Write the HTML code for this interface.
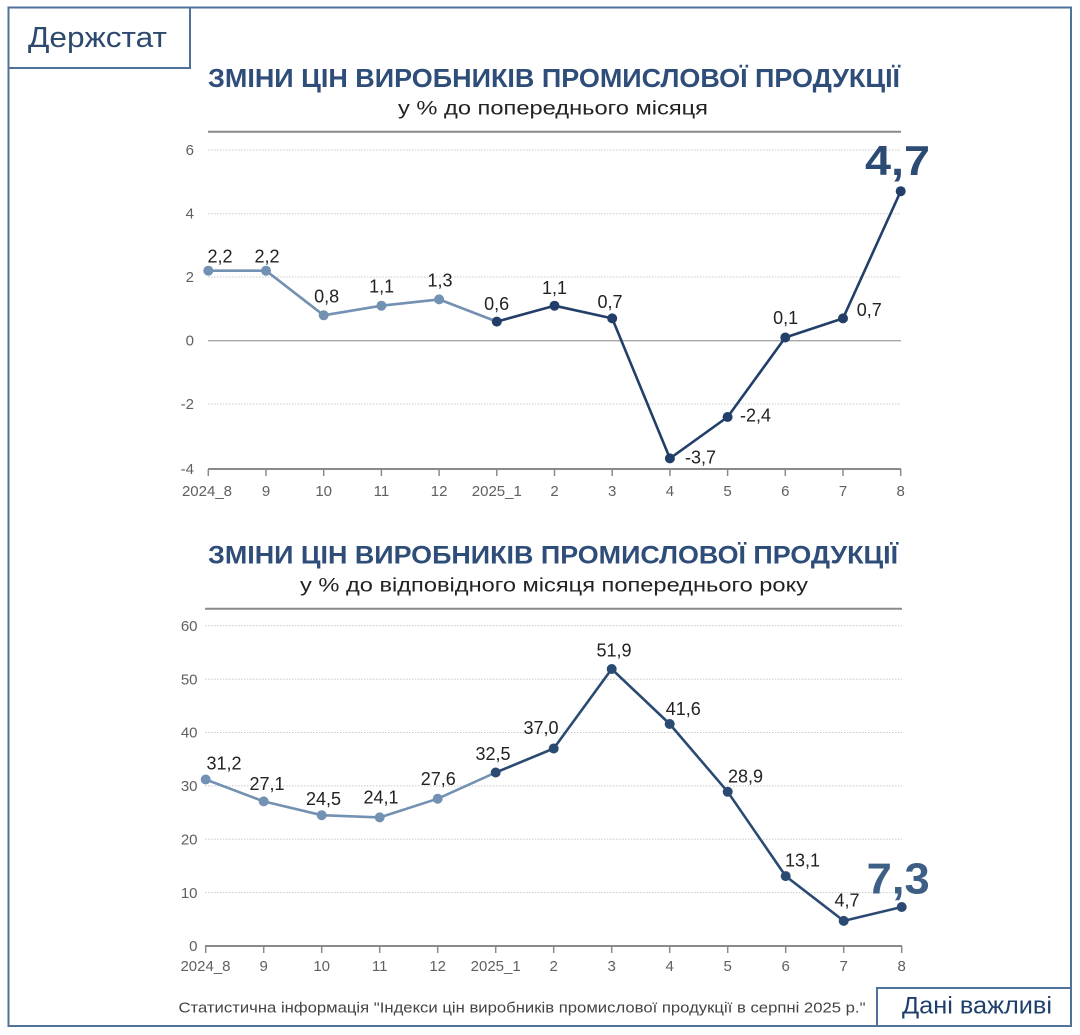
<!DOCTYPE html>
<html>
<head>
<meta charset="utf-8">
<style>
html,body{margin:0;padding:0;background:#fff;}
svg{display:block;}
text{font-family:"Liberation Sans","DejaVu Sans",sans-serif;}
</style>
</head>
<body>
<svg width="1080" height="1035" viewBox="0 0 1080 1035" xmlns="http://www.w3.org/2000/svg">
<rect x="0" y="0" width="1080" height="1035" fill="#fff"/>
<!-- frame -->
<rect x="8.5" y="7.5" width="1062.5" height="1018.5" fill="none" stroke="#4f729a" stroke-width="2"/>
<rect x="8.5" y="7.5" width="181.5" height="60.5" fill="none" stroke="#4f729a" stroke-width="2"/>
<text x="28" y="47" font-size="29" fill="#2d4a6e" textLength="139" lengthAdjust="spacingAndGlyphs">Держстат</text>

<!-- ===== TOP CHART ===== -->
<text x="208" y="87" font-size="26" font-weight="bold" fill="#2e4d78" textLength="692" lengthAdjust="spacingAndGlyphs">ЗМІНИ ЦІН ВИРОБНИКІВ ПРОМИСЛОВОЇ ПРОДУКЦІЇ</text>
<text x="398" y="114.5" font-size="19" fill="#222" textLength="310" lengthAdjust="spacingAndGlyphs">у % до попереднього місяця</text>
<line x1="208" y1="131.7" x2="901" y2="131.7" stroke="#8a8a8a" stroke-width="2"/>
<g stroke="#c8c8c8" stroke-width="1" stroke-dasharray="1.5,1.5">
<line x1="208" y1="150" x2="901" y2="150"/>
<line x1="208" y1="213.7" x2="901" y2="213.7"/>
<line x1="208" y1="277" x2="901" y2="277"/>
<line x1="208" y1="404" x2="901" y2="404"/>
</g>
<line x1="208" y1="340.7" x2="901" y2="340.7" stroke="#a8a8a8" stroke-width="1.3"/>
<line x1="208" y1="469" x2="901" y2="469" stroke="#8a8a8a" stroke-width="2"/>
<g stroke="#8a8a8a" stroke-width="1.5">
<line x1="208.3" y1="469" x2="208.3" y2="476"/><line x1="266" y1="469" x2="266" y2="476"/>
<line x1="323.7" y1="469" x2="323.7" y2="476"/><line x1="381.4" y1="469" x2="381.4" y2="476"/>
<line x1="439.1" y1="469" x2="439.1" y2="476"/><line x1="496.8" y1="469" x2="496.8" y2="476"/>
<line x1="554.5" y1="469" x2="554.5" y2="476"/><line x1="612.2" y1="469" x2="612.2" y2="476"/>
<line x1="669.9" y1="469" x2="669.9" y2="476"/><line x1="727.6" y1="469" x2="727.6" y2="476"/>
<line x1="785.3" y1="469" x2="785.3" y2="476"/><line x1="843" y1="469" x2="843" y2="476"/>
<line x1="900.7" y1="469" x2="900.7" y2="476"/>
</g>
<g font-size="15" fill="#606060" text-anchor="end">
<text x="194" y="155">6</text><text x="194" y="218.7">4</text><text x="194" y="282">2</text>
<text x="194" y="345.7">0</text><text x="194" y="409">-2</text><text x="194" y="474">-4</text>
</g>
<g font-size="15" fill="#606060" text-anchor="middle">
<text x="207" y="496">2024_8</text><text x="266" y="496">9</text><text x="323.7" y="496">10</text>
<text x="381.4" y="496">11</text><text x="439.1" y="496">12</text><text x="496.8" y="496">2025_1</text>
<text x="554.5" y="496">2</text><text x="612.2" y="496">3</text><text x="669.9" y="496">4</text>
<text x="727.6" y="496">5</text><text x="785.3" y="496">6</text><text x="843" y="496">7</text>
<text x="900.7" y="496">8</text>
</g>
<polyline points="208.3,270.7 266,270.7 323.7,315.3 381.4,305.7 439.1,299.4 496.8,321.6" fill="none" stroke="#7391b2" stroke-width="2.6" stroke-linejoin="round"/>
<polyline points="496.8,321.6 554.5,305.7 612.2,318.4 669.9,458.4 727.6,417 785.3,337.5 843,318.4 900.7,191.2" fill="none" stroke="#213f68" stroke-width="2.6" stroke-linejoin="round"/>
<g fill="#7391b2">
<circle cx="208.3" cy="270.7" r="5"/><circle cx="266" cy="270.7" r="5"/><circle cx="323.7" cy="315.3" r="5"/>
<circle cx="381.4" cy="305.7" r="5"/><circle cx="439.1" cy="299.4" r="5"/>
</g>
<g fill="#213f68">
<circle cx="496.8" cy="321.6" r="5"/><circle cx="554.5" cy="305.7" r="5"/><circle cx="612.2" cy="318.4" r="5"/>
<circle cx="669.9" cy="458.4" r="5"/><circle cx="727.6" cy="417" r="5"/><circle cx="785.3" cy="337.5" r="5"/>
<circle cx="843" cy="318.4" r="5"/><circle cx="900.7" cy="191.2" r="5"/>
</g>
<g font-size="18" fill="#222" text-anchor="middle">
<text x="220" y="262.5">2,2</text><text x="267" y="262.5">2,2</text><text x="326.7" y="302.7">0,8</text>
<text x="381.7" y="292.7">1,1</text><text x="440" y="286.7">1,3</text><text x="496.7" y="310">0,6</text>
<text x="554.5" y="294">1,1</text><text x="610" y="308">0,7</text>
<text x="785.7" y="324">0,1</text>
</g>
<g font-size="18" fill="#222">
<text x="685" y="463.3">-3,7</text><text x="740" y="421.7">-2,4</text><text x="856.7" y="316">0,7</text>
</g>
<text x="865" y="175" font-size="42" font-weight="bold" fill="#2b4a74" textLength="65" lengthAdjust="spacingAndGlyphs">4,7</text>

<!-- ===== BOTTOM CHART ===== -->
<text x="208" y="563.5" font-size="25" font-weight="bold" fill="#2e4d78" textLength="690" lengthAdjust="spacingAndGlyphs">ЗМІНИ ЦІН ВИРОБНИКІВ ПРОМИСЛОВОЇ ПРОДУКЦІЇ</text>
<text x="300" y="591.5" font-size="19" fill="#222" textLength="508" lengthAdjust="spacingAndGlyphs">у % до відповідного місяця попереднього року</text>
<line x1="205" y1="608.7" x2="902" y2="608.7" stroke="#8a8a8a" stroke-width="2"/>
<g stroke="#c8c8c8" stroke-width="1" stroke-dasharray="1.5,1.5">
<line x1="205" y1="625.8" x2="902" y2="625.8"/>
<line x1="205" y1="679.2" x2="902" y2="679.2"/>
<line x1="205" y1="732.5" x2="902" y2="732.5"/>
<line x1="205" y1="785.9" x2="902" y2="785.9"/>
<line x1="205" y1="839.3" x2="902" y2="839.3"/>
<line x1="205" y1="892.6" x2="902" y2="892.6"/>
</g>
<line x1="205" y1="946" x2="902" y2="946" stroke="#8a8a8a" stroke-width="2"/>
<g stroke="#8a8a8a" stroke-width="1.5">
<line x1="205.7" y1="946" x2="205.7" y2="953"/><line x1="263.7" y1="946" x2="263.7" y2="953"/>
<line x1="321.7" y1="946" x2="321.7" y2="953"/><line x1="379.7" y1="946" x2="379.7" y2="953"/>
<line x1="437.7" y1="946" x2="437.7" y2="953"/><line x1="495.7" y1="946" x2="495.7" y2="953"/>
<line x1="553.7" y1="946" x2="553.7" y2="953"/><line x1="611.7" y1="946" x2="611.7" y2="953"/>
<line x1="669.7" y1="946" x2="669.7" y2="953"/><line x1="727.7" y1="946" x2="727.7" y2="953"/>
<line x1="785.7" y1="946" x2="785.7" y2="953"/><line x1="843.7" y1="946" x2="843.7" y2="953"/>
<line x1="901.7" y1="946" x2="901.7" y2="953"/>
</g>
<g font-size="15" fill="#606060" text-anchor="end">
<text x="197.5" y="631">60</text><text x="197.5" y="684.4">50</text><text x="197.5" y="737.7">40</text>
<text x="197.5" y="791.1">30</text><text x="197.5" y="844.5">20</text><text x="197.5" y="897.8">10</text>
<text x="197.5" y="951.2">0</text>
</g>
<g font-size="15" fill="#606060" text-anchor="middle">
<text x="205.5" y="971">2024_8</text><text x="263.7" y="971">9</text><text x="321.7" y="971">10</text>
<text x="379.7" y="971">11</text><text x="437.7" y="971">12</text><text x="495.7" y="971">2025_1</text>
<text x="553.7" y="971">2</text><text x="611.7" y="971">3</text><text x="669.7" y="971">4</text>
<text x="727.7" y="971">5</text><text x="785.7" y="971">6</text><text x="843.7" y="971">7</text>
<text x="901.7" y="971">8</text>
</g>
<polyline points="205.7,779.5 263.7,801.4 321.7,815.2 379.7,817.4 437.7,798.7 495.7,772.5" fill="none" stroke="#7391b2" stroke-width="2.6" stroke-linejoin="round"/>
<polyline points="495.7,772.5 553.7,748.5 611.7,669 669.7,724 727.7,791.8 785.7,876.1 843.7,920.9 901.7,907" fill="none" stroke="#2b4a72" stroke-width="2.6" stroke-linejoin="round"/>
<g fill="#7391b2">
<circle cx="205.7" cy="779.5" r="5"/><circle cx="263.7" cy="801.4" r="5"/><circle cx="321.7" cy="815.2" r="5"/>
<circle cx="379.7" cy="817.4" r="5"/><circle cx="437.7" cy="798.7" r="5"/>
</g>
<g fill="#2b4a72">
<circle cx="495.7" cy="772.5" r="5"/><circle cx="553.7" cy="748.5" r="5"/><circle cx="611.7" cy="669" r="5"/>
<circle cx="669.7" cy="724" r="5"/><circle cx="727.7" cy="791.8" r="5"/><circle cx="785.7" cy="876.1" r="5"/>
<circle cx="843.7" cy="920.9" r="5"/><circle cx="901.7" cy="907" r="5"/>
</g>
<g font-size="18" fill="#222" text-anchor="middle">
<text x="224" y="769.3">31,2</text><text x="267" y="790">27,1</text><text x="323.5" y="805">24,5</text>
<text x="381" y="803.3">24,1</text><text x="438.3" y="785">27,6</text><text x="493" y="760">32,5</text>
<text x="541" y="734">37,0</text><text x="614" y="656.7">51,9</text><text x="683.3" y="715">41,6</text>
<text x="745.5" y="782.3">28,9</text><text x="802.5" y="866.7">13,1</text><text x="847" y="906.7">4,7</text>
</g>
<text x="866.7" y="893.5" font-size="44" font-weight="bold" fill="#3e5f85" textLength="63" lengthAdjust="spacingAndGlyphs">7,3</text>

<!-- footer -->
<text x="178.5" y="1012.3" font-size="15" fill="#444" textLength="687" lengthAdjust="spacingAndGlyphs">Статистична інформація "Індекси цін виробників промислової продукції в серпні 2025 р."</text>
<rect x="877" y="988" width="194" height="38" fill="#fff" stroke="#4f729a" stroke-width="2"/>
<text x="902" y="1013.5" font-size="24" fill="#1e3f6c" textLength="150" lengthAdjust="spacingAndGlyphs">Дані важливі</text>
</svg>
</body>
</html>
